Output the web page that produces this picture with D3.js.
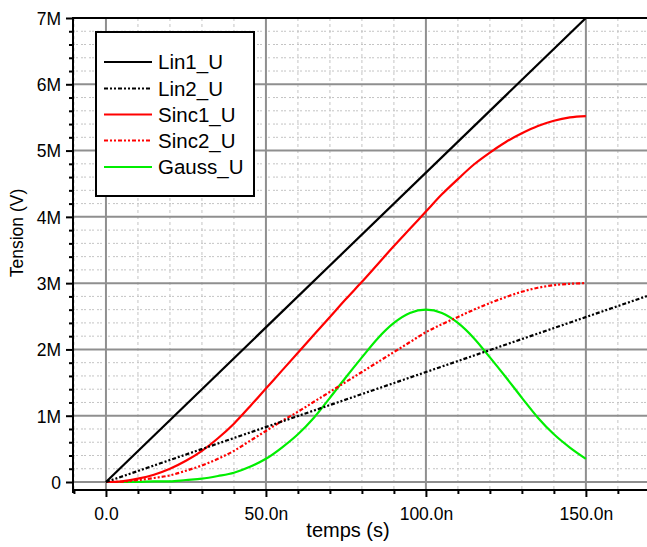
<!DOCTYPE html>
<html>
<head>
<meta charset="utf-8">
<script src="https://cdn.jsdelivr.net/npm/d3@7"></script>
<style>
  html, body { margin: 0; padding: 0; background: #fff; }
  svg { display: block; font-family: "Liberation Sans", Arial, sans-serif; }
</style>
</head>
<body>
<svg id="chart" width="647" height="547"></svg>
<script>
// ---- data (time in ns, tension in MV) ----
const seriesNames = ["Lin1_U", "Lin2_U", "Sinc1_U", "Sinc2_U", "Gauss_U"];
const lin1T = [0, 150];
const lin1V = [0, 7.0];
const lin2T = [0, 170];
const lin2V = [0, 2.82];
const curveT = [0,5,10,15,20,25,30,35,40,45,50,55,60,65,70,75,80,85,90,95,100,105,110,115,120,125,130,135,140,145,150];
const sinc1V = [0,0.01,0.05,0.11,0.2,0.32,0.47,0.66,0.88,1.14,1.41,1.68,1.95,2.22,2.49,2.76,3.02,3.29,3.56,3.82,4.08,4.34,4.57,4.79,4.97,5.13,5.26,5.37,5.45,5.5,5.52];
const sinc2V = [0,0.005,0.03,0.06,0.1,0.17,0.25,0.35,0.47,0.62,0.77,0.92,1.06,1.21,1.36,1.51,1.66,1.81,1.96,2.11,2.26,2.38,2.49,2.6,2.7,2.79,2.87,2.93,2.97,2.99,3.0];
const gaussV = [0,0,0,0.01,0.01,0.03,0.05,0.09,0.14,0.23,0.35,0.52,0.72,0.97,1.27,1.58,1.88,2.17,2.40,2.55,2.60,2.55,2.40,2.17,1.88,1.58,1.27,0.97,0.72,0.52,0.35];
const xMajorTicks = [0, 50, 100, 150];
const xTickLabels = ["0.0", "50.0n", "100.0n", "150.0n"];
const yMajorTicks = [0, 1, 2, 3, 4, 5, 6, 7];
const yTickLabels = ["0", "1M", "2M", "3M", "4M", "5M", "6M", "7M"];
const xTitle = "temps (s)";
const yTitle = "Tension (V)";

// ---- layout ----
const svg = d3.select("#chart");
const L = 73, R = 647, T = 18, B = 490;
const x = d3.scaleLinear().domain([-10.3, 169.1]).range([L, R]);
const y = d3.scaleLinear().domain([0, 7]).range([482, T]);

const xMinor = d3.range(-10, 170, 10).filter(v => !xMajorTicks.includes(v));
const yMinor = d3.range(0, 7.001, 0.2).map(v => Math.round(v * 10) / 10).filter(v => !yMajorTicks.includes(v));

svg.append("clipPath").attr("id", "clip")
  .append("rect").attr("x", L).attr("y", T).attr("width", R - L).attr("height", B - T);

// minor grid
const grid = svg.append("g");
grid.selectAll(".vminor").data(xMinor).join("line")
  .attr("x1", d => x(d)).attr("x2", d => x(d)).attr("y1", T).attr("y2", B)
  .attr("stroke", "#c4c4c4").attr("stroke-width", 1).attr("stroke-dasharray", "3,3");
grid.selectAll(".hminor").data(yMinor).join("line")
  .attr("x1", L).attr("x2", R).attr("y1", d => y(d)).attr("y2", d => y(d))
  .attr("stroke", "#c4c4c4").attr("stroke-width", 1).attr("stroke-dasharray", "2,1,2,3");
// major grid
grid.selectAll(".vmajor").data(xMajorTicks).join("line")
  .attr("x1", d => x(d)).attr("x2", d => x(d)).attr("y1", T).attr("y2", B)
  .attr("stroke", "#8f8f8f").attr("stroke-width", 2);
grid.selectAll(".hmajor").data(yMajorTicks).join("line")
  .attr("x1", L).attr("x2", R).attr("y1", d => y(d)).attr("y2", d => y(d))
  .attr("stroke", "#8f8f8f").attr("stroke-width", 2);

// series
const dashPat = "4,2,2,2,2,2";
const series = [
  { name: seriesNames[0], t: lin1T, v: lin1V, color: "#000000", dash: null },
  { name: seriesNames[1], t: lin2T, v: lin2V, color: "#000000", dash: dashPat },
  { name: seriesNames[2], t: curveT, v: sinc1V, color: "#ff0000", dash: null },
  { name: seriesNames[3], t: curveT, v: sinc2V, color: "#ff0000", dash: dashPat },
  { name: seriesNames[4], t: curveT, v: gaussV, color: "#00ee00", dash: null }
];
const line = d3.line().x(d => x(d[0])).y(d => y(d[1])).curve(d3.curveMonotoneX);
const plot = svg.append("g").attr("clip-path", "url(#clip)");
series.slice().reverse().forEach(s => {
  plot.append("path")
    .datum(s.t.map((t, i) => [t, s.v[i]]))
    .attr("d", line)
    .attr("fill", "none")
    .attr("stroke", s.color)
    .attr("stroke-width", 2.2)
    .attr("stroke-dasharray", s.dash);
});

// axes
const fmtX = d => xTickLabels[xMajorTicks.indexOf(d)];
const fmtY = d => yTickLabels[yMajorTicks.indexOf(d)];
const xAxisMajor = svg.append("g").attr("transform", `translate(0,${B})`)
  .call(d3.axisBottom(x).tickValues(xMajorTicks).tickSize(7).tickSizeOuter(0).tickPadding(11).tickFormat(fmtX));
const xAxisMinor = svg.append("g").attr("transform", `translate(0,${B})`)
  .call(d3.axisBottom(x).tickValues(xMinor).tickSize(4).tickSizeOuter(0).tickFormat(""));
const yAxisMajor = svg.append("g").attr("transform", `translate(${L},0)`)
  .call(d3.axisLeft(y).tickValues(yMajorTicks).tickSize(7).tickSizeOuter(0).tickPadding(5).tickFormat(fmtY));
const yAxisMinor = svg.append("g").attr("transform", `translate(${L},0)`)
  .call(d3.axisLeft(y).tickValues(yMinor).tickSize(4).tickSizeOuter(0).tickFormat(""));
[xAxisMajor, xAxisMinor, yAxisMajor, yAxisMinor].forEach(g => {
  g.select(".domain").remove();
  g.selectAll(".tick line").attr("stroke", "#000").attr("stroke-width", 2);
  g.selectAll("text").attr("font-size", 17.5).attr("fill", "#000")
    .attr("font-family", "'Liberation Sans', Arial, sans-serif");
});
yAxisMajor.selectAll("text").attr("dy", "0.36em");

// frame lines
svg.append("line").attr("x1", L).attr("x2", L).attr("y1", T - 1).attr("y2", B + 3)
  .attr("stroke", "#000").attr("stroke-width", 2);
svg.append("line").attr("x1", L - 1).attr("x2", R).attr("y1", B).attr("y2", B)
  .attr("stroke", "#000").attr("stroke-width", 2);
svg.append("line").attr("x1", L - 1).attr("x2", R).attr("y1", T).attr("y2", T)
  .attr("stroke", "#000").attr("stroke-width", 2);

// titles
svg.append("text").attr("x", 348).attr("y", 537).attr("text-anchor", "middle")
  .attr("font-size", 20).text(xTitle);
svg.append("text").attr("transform", "translate(23,233) rotate(-90)")
  .attr("text-anchor", "middle").attr("font-size", 17.5).text(yTitle);

// legend
const lg = svg.append("g");
lg.append("rect").attr("x", 96).attr("y", 32).attr("width", 158).attr("height", 164)
  .attr("fill", "#fff").attr("stroke", "#000").attr("stroke-width", 2);
const legendY = [62, 88.5, 114.5, 140.5, 167];
series.forEach((s, i) => {
  lg.append("line").attr("x1", 104).attr("x2", 152).attr("y1", legendY[i]).attr("y2", legendY[i])
    .attr("stroke", s.color).attr("stroke-width", 2).attr("stroke-dasharray", s.dash);
  lg.append("text").attr("x", 158).attr("y", legendY[i]).attr("dy", "0.36em")
    .attr("font-size", 20.5).text(s.name);
});
</script>
</body>
</html>
